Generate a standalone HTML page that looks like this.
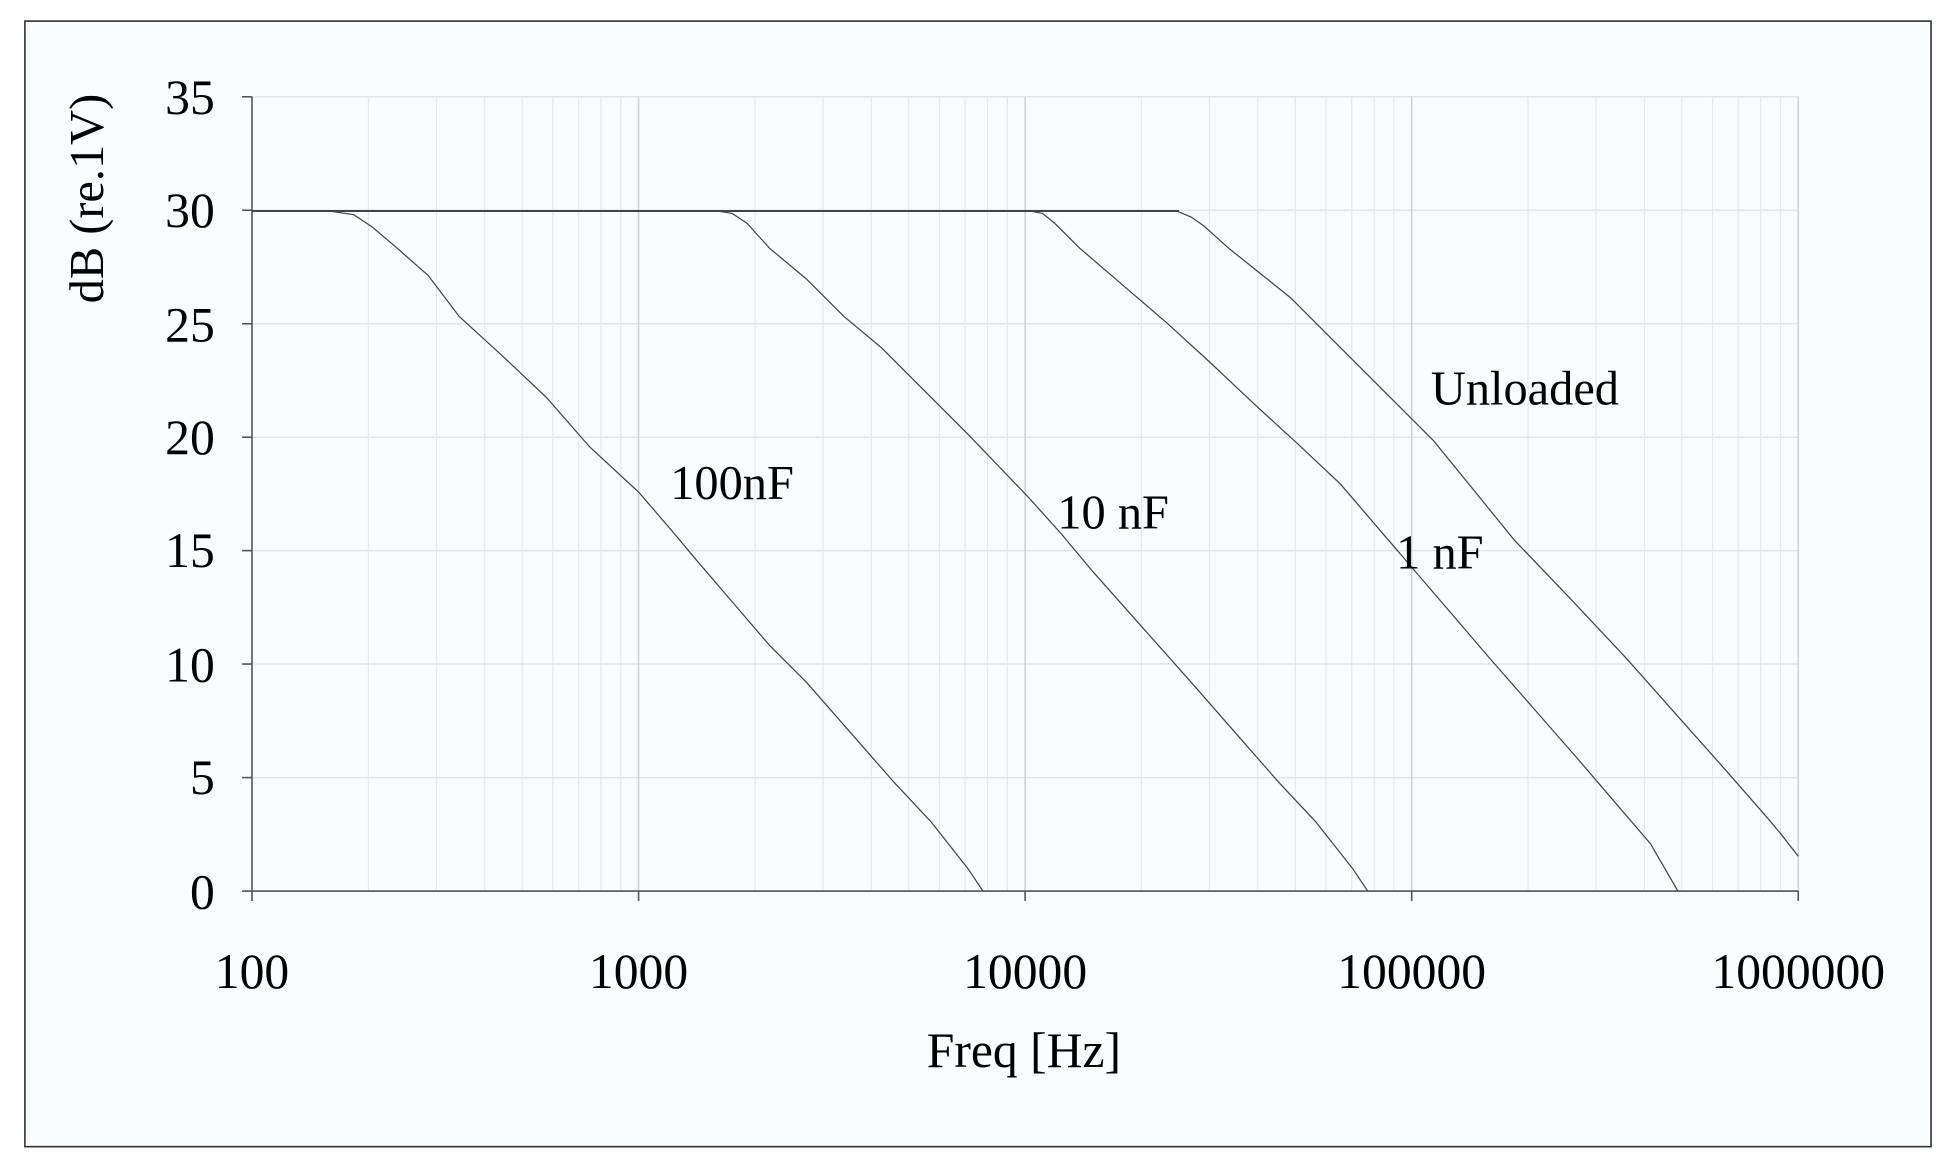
<!DOCTYPE html>
<html><head><style>html,body{margin:0;padding:0;background:#fff}svg{display:block}</style></head>
<body>
<svg xmlns="http://www.w3.org/2000/svg" width="1946" height="1169" viewBox="0 0 1568 942">
<rect x="0" y="0" width="1568" height="942" fill="#fff"/>
<rect x="20" y="17" width="1536" height="907" fill="#f9fcfd" stroke="#333" stroke-width="1.3"/>
<g stroke="#dfe6e8" stroke-width="1.2">
<line x1="203" y1="78" x2="1449" y2="78"/>
<line x1="203" y1="169.4" x2="1449" y2="169.4"/>
<line x1="203" y1="260.9" x2="1449" y2="260.9"/>
<line x1="203" y1="352.3" x2="1449" y2="352.3"/>
<line x1="203" y1="443.7" x2="1449" y2="443.7"/>
<line x1="203" y1="535.1" x2="1449" y2="535.1"/>
<line x1="203" y1="626.6" x2="1449" y2="626.6"/>
</g>
<g stroke="#e4eaec" stroke-width="1">
<line x1="296.8" y1="78" x2="296.8" y2="718"/><line x1="351.6" y1="78" x2="351.6" y2="718"/><line x1="390.5" y1="78" x2="390.5" y2="718"/><line x1="420.7" y1="78" x2="420.7" y2="718"/><line x1="445.4" y1="78" x2="445.4" y2="718"/><line x1="466.2" y1="78" x2="466.2" y2="718"/><line x1="484.3" y1="78" x2="484.3" y2="718"/><line x1="500.2" y1="78" x2="500.2" y2="718"/>
<line x1="608.3" y1="78" x2="608.3" y2="718"/><line x1="663.1" y1="78" x2="663.1" y2="718"/><line x1="702" y1="78" x2="702" y2="718"/><line x1="732.2" y1="78" x2="732.2" y2="718"/><line x1="756.9" y1="78" x2="756.9" y2="718"/><line x1="777.7" y1="78" x2="777.7" y2="718"/><line x1="795.8" y1="78" x2="795.8" y2="718"/><line x1="811.7" y1="78" x2="811.7" y2="718"/>
<line x1="919.8" y1="78" x2="919.8" y2="718"/><line x1="974.6" y1="78" x2="974.6" y2="718"/><line x1="1013.5" y1="78" x2="1013.5" y2="718"/><line x1="1043.7" y1="78" x2="1043.7" y2="718"/><line x1="1068.4" y1="78" x2="1068.4" y2="718"/><line x1="1089.2" y1="78" x2="1089.2" y2="718"/><line x1="1107.3" y1="78" x2="1107.3" y2="718"/><line x1="1123.2" y1="78" x2="1123.2" y2="718"/>
<line x1="1231.3" y1="78" x2="1231.3" y2="718"/><line x1="1286.1" y1="78" x2="1286.1" y2="718"/><line x1="1325" y1="78" x2="1325" y2="718"/><line x1="1355.2" y1="78" x2="1355.2" y2="718"/><line x1="1379.9" y1="78" x2="1379.9" y2="718"/><line x1="1400.7" y1="78" x2="1400.7" y2="718"/><line x1="1418.8" y1="78" x2="1418.8" y2="718"/><line x1="1434.7" y1="78" x2="1434.7" y2="718"/>
</g>
<g stroke="#c9d2d5" stroke-width="1.2">
<line x1="514.5" y1="78" x2="514.5" y2="718"/><line x1="826" y1="78" x2="826" y2="718"/><line x1="1137.5" y1="78" x2="1137.5" y2="718"/><line x1="1449" y1="78" x2="1449" y2="718"/>
</g>
<g stroke="#555" stroke-width="1.3">
<line x1="203" y1="78" x2="203" y2="726"/>
<line x1="195" y1="718" x2="1449" y2="718"/>
<line x1="195" y1="78" x2="203" y2="78"/><line x1="195" y1="169.4" x2="203" y2="169.4"/><line x1="195" y1="260.9" x2="203" y2="260.9"/><line x1="195" y1="352.3" x2="203" y2="352.3"/><line x1="195" y1="443.7" x2="203" y2="443.7"/><line x1="195" y1="535.1" x2="203" y2="535.1"/><line x1="195" y1="626.6" x2="203" y2="626.6"/>
<line x1="514.5" y1="718" x2="514.5" y2="726"/><line x1="826" y1="718" x2="826" y2="726"/><line x1="1137.5" y1="718" x2="1137.5" y2="726"/><line x1="1449" y1="718" x2="1449" y2="726"/>
</g>
<line x1="203" y1="170" x2="950" y2="170" stroke="#444" stroke-width="1.6"/>
<g fill="none" stroke="#444" stroke-width="1">
<polyline points="203,170 265,170 285,173 300,183 320,200 345,222 370,255 405,287 440,320 475,360 515,397 545,432 560,450 590,485 620,520 650,550 685,590 720,630 750,662 780,700 792,718"/>
<polyline points="578,170 590,172 602,180 620,200 650,225 680,255 710,280 740,310 780,350 828,400 855,430 880,460 920,505 960,550 995,590 1030,630 1060,662 1090,700 1102,718"/>
<polyline points="830,170 840,172 850,180 870,200 905,230 940,260 975,292 1010,325 1045,357 1080,390 1110,425 1140,460 1170,495 1200,530 1235,570 1270,610 1300,645 1330,680 1352,718"/>
<polyline points="948,170 960,175 970,182 990,200 1015,220 1040,240 1075,275 1115,315 1155,355 1190,398 1220,435 1265,482 1310,530 1350,575 1390,620 1425,660 1435,672 1449,690"/>
</g>
<g font-family="Liberation Serif, serif" font-size="40" fill="#000">
<g text-anchor="end">
<text x="173" y="92">35</text><text x="173" y="183">30</text><text x="173" y="275">25</text><text x="173" y="366">20</text><text x="173" y="457">15</text><text x="173" y="549">10</text><text x="173" y="640">5</text><text x="173" y="732">0</text>
</g>
<g text-anchor="middle">
<text x="203" y="796">100</text><text x="514.5" y="796">1000</text><text x="826" y="796">10000</text><text x="1137.5" y="796">100000</text><text x="1449" y="796">1000000</text>
<text x="825" y="860" font-size="40">Freq [Hz]</text>
<text transform="translate(83,160) rotate(-90)" font-size="39">dB (re.1V)</text>
</g>
<g font-size="39">
<text x="540" y="402">100nF</text>
<text x="852" y="426">10 nF</text>
<text x="1125" y="458">1 nF</text>
<text x="1153" y="326">Unloaded</text>
</g>
</g>
</svg>
</body></html>
